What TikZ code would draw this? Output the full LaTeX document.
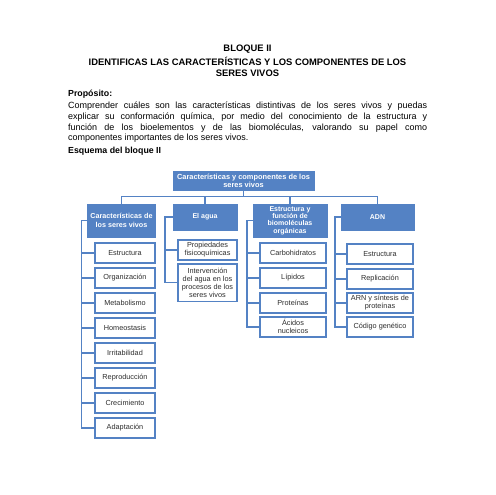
\documentclass[tikz,border=0pt]{standalone}
\usepackage{fontspec}
\setmainfont{Liberation Sans}
\usepackage{xcolor}
\usetikzlibrary{positioning}
\definecolor{azul}{RGB}{84,130,196}
\definecolor{texto}{RGB}{45,45,45}

\begin{document}
\begin{tikzpicture}[
  x=1pt, y=1pt,
	block1/.style={
	draw=azul,
	fill=white,
	rectangle,
	line width=1.6pt,
	outer sep=0pt,
	align=center,
	inner sep=1pt,
	text=texto,
	minimum height={20pt},
	font=\fontsize{7.3}{8.1}\selectfont},
	block2/.style={
	draw=azul,
	fill=azul,
	rectangle,
	outer sep=0pt,
	align=center,
	inner sep=0.5pt,
	text=white,
	font=\bfseries\fontsize{7}{7.3}\selectfont},
	heading/.style={
	align=center,
	inner sep=0pt,
	font=\bfseries\fontsize{9.4}{10.8}\selectfont},
	label1/.style={
	anchor=west,
	inner sep=0pt,
	font=\bfseries\fontsize{8.8}{10}\selectfont},
	connector/.style={
	draw=azul,
	line width=1.8pt
	}]

	% Page
	\useasboundingbox (0,0) rectangle (495,-495);

	% Heading
	\node [heading] at (247.5,-49)  (bloque)   {BLOQUE II};
	\node [heading] at (247.5,-66.5)  (titulo)   {IDENTIFICAS LAS CARACTERÍSTICAS Y LOS COMPONENTES DE LOS\\SERES VIVOS};
	\node [label1] at (68,-94)  (proposito) {Propósito:};
	\node [anchor=north west, inner sep=0pt, text width=359pt, align=justify,
	       font=\fontsize{9}{10.6}\selectfont] at (68,-102) (parrafo)
	  {Comprender cuáles son las características distintivas de los seres vivos y puedas\linebreak
	   explicar su conformación química, por medio del conocimiento de la estructura y\linebreak
	   función de los bioelementos y de las biomoléculas, valorando su papel como\linebreak
	   componentes importantes de los seres vivos.};
	\node [label1] at (68,-151) (esquema) {Esquema del bloque II};

	% Root
	\node [block2, minimum width=141pt, minimum height=19pt,
	       font=\bfseries\fontsize{7.4}{8}\selectfont] at (243.5,-180.5) (raiz)
	  {Características y componentes de los\\seres vivos};

	% Level 1
	\node [block2, anchor=north, minimum width=68pt, minimum height=33pt,
	       font=\bfseries\fontsize{7.2}{8.8}\selectfont] at (121.5,-204) (cara) {Características de\\los seres vivos};
	\node [block2, anchor=north, minimum width=64pt, minimum height=26pt] at (205,-204)   (agua) {El agua};
	\node [block2, anchor=north, minimum width=74pt, minimum height=33pt] at (290,-204)   (biom) {Estructura y\\función de\\biomoléculas\\orgánicas};
	\node [block2, anchor=north, minimum width=73pt, minimum height=26pt] at (377.5,-204) (adn)  {ADN};

	% Caracteristicas
	\node [block1, minimum width=60pt, anchor=north] at (125,-242.8) (cara1) {Estructura};
	\node [block1, minimum width=60pt, below=5pt of cara1] (cara2) {Organización};
	\node [block1, minimum width=60pt, below=5pt of cara2] (cara3) {Metabolismo};
	\node [block1, minimum width=60pt, below=5pt of cara3] (cara4) {Homeostasis};
	\node [block1, minimum width=60pt, below=5pt of cara4] (cara5) {Irritabilidad};
	\node [block1, minimum width=60pt, below=5pt of cara5] (cara6) {Reproducción};
	\node [block1, minimum width=60pt, below=5pt of cara6] (cara7) {Crecimiento};
	\node [block1, minimum width=60pt, below=5pt of cara7] (cara8) {Adaptación};

	% Agua
	\node [block1, minimum width=59.5pt, anchor=north] at (207.5,-239.8) (agua1) {Propiedades\\fisicoquímicas};
	\node [block1, minimum width=59.5pt, minimum height=37.5pt, below=4pt of agua1] (agua2) {Intervención\\del agua en los\\procesos de los\\seres vivos};

	% Biomoleculas
	\node [block1, minimum width=66.5pt, anchor=north] at (293,-242.8) (biom1) {Carbohidratos};
	\node [block1, minimum width=66.5pt, below=5pt of biom1] (biom2) {Lípidos};
	\node [block1, minimum width=66.5pt, below=5pt of biom2] (biom3) {Proteínas};
	\node [block1, minimum width=66.5pt, below=4pt of biom3] (biom4) {Ácidos\\nucleicos};

	% ADN
	\node [block1, minimum width=66.5pt, anchor=north] at (380,-243.8) (adn1) {Estructura};
	\node [block1, minimum width=66.5pt, below=5pt of adn1] (adn2) {Replicación};
	\node [block1, minimum width=66.5pt, below=4pt of adn2] (adn3) {ARN y síntesis de\\proteínas};
	\node [block1, minimum width=66.5pt, below=4pt of adn3] (adn4) {Código genético};

	% Root to level 1
	\draw[connector] (raiz.south) -- ++(0,-6.5pt) -| (cara.north);
	\draw[connector] (raiz.south) -- ++(0,-6.5pt) -| (agua.north);
	\draw[connector] (raiz.south) -- ++(0,-6.5pt) -| (biom.north);
	\draw[connector] (raiz.south) -- ++(0,-6.5pt) -| (adn.north);

	% Level 1 to items
	\draw[connector] (cara.west) -- ++(-6pt,0) |- (cara1.west);
	\draw[connector] (cara.west) -- ++(-6pt,0) |- (cara2.west);
	\draw[connector] (cara.west) -- ++(-6pt,0) |- (cara3.west);
	\draw[connector] (cara.west) -- ++(-6pt,0) |- (cara4.west);
	\draw[connector] (cara.west) -- ++(-6pt,0) |- (cara5.west);
	\draw[connector] (cara.west) -- ++(-6pt,0) |- (cara6.west);
	\draw[connector] (cara.west) -- ++(-6pt,0) |- (cara7.west);
	\draw[connector] (cara.west) -- ++(-6pt,0) |- (cara8.west);

	\draw[connector] (agua.west) -- ++(-8pt,0) |- (agua1.west);
	\draw[connector] (agua.west) -- ++(-8pt,0) |- (agua2.west);

	\draw[connector] (biom.west) -- ++(-6pt,0) |- (biom1.west);
	\draw[connector] (biom.west) -- ++(-6pt,0) |- (biom2.west);
	\draw[connector] (biom.west) -- ++(-6pt,0) |- (biom3.west);
	\draw[connector] (biom.west) -- ++(-6pt,0) |- (biom4.west);

	\draw[connector] (adn.west) -- ++(-6pt,0) |- (adn1.west);
	\draw[connector] (adn.west) -- ++(-6pt,0) |- (adn2.west);
	\draw[connector] (adn.west) -- ++(-6pt,0) |- (adn3.west);
	\draw[connector] (adn.west) -- ++(-6pt,0) |- (adn4.west);

\end{tikzpicture}
\end{document}
